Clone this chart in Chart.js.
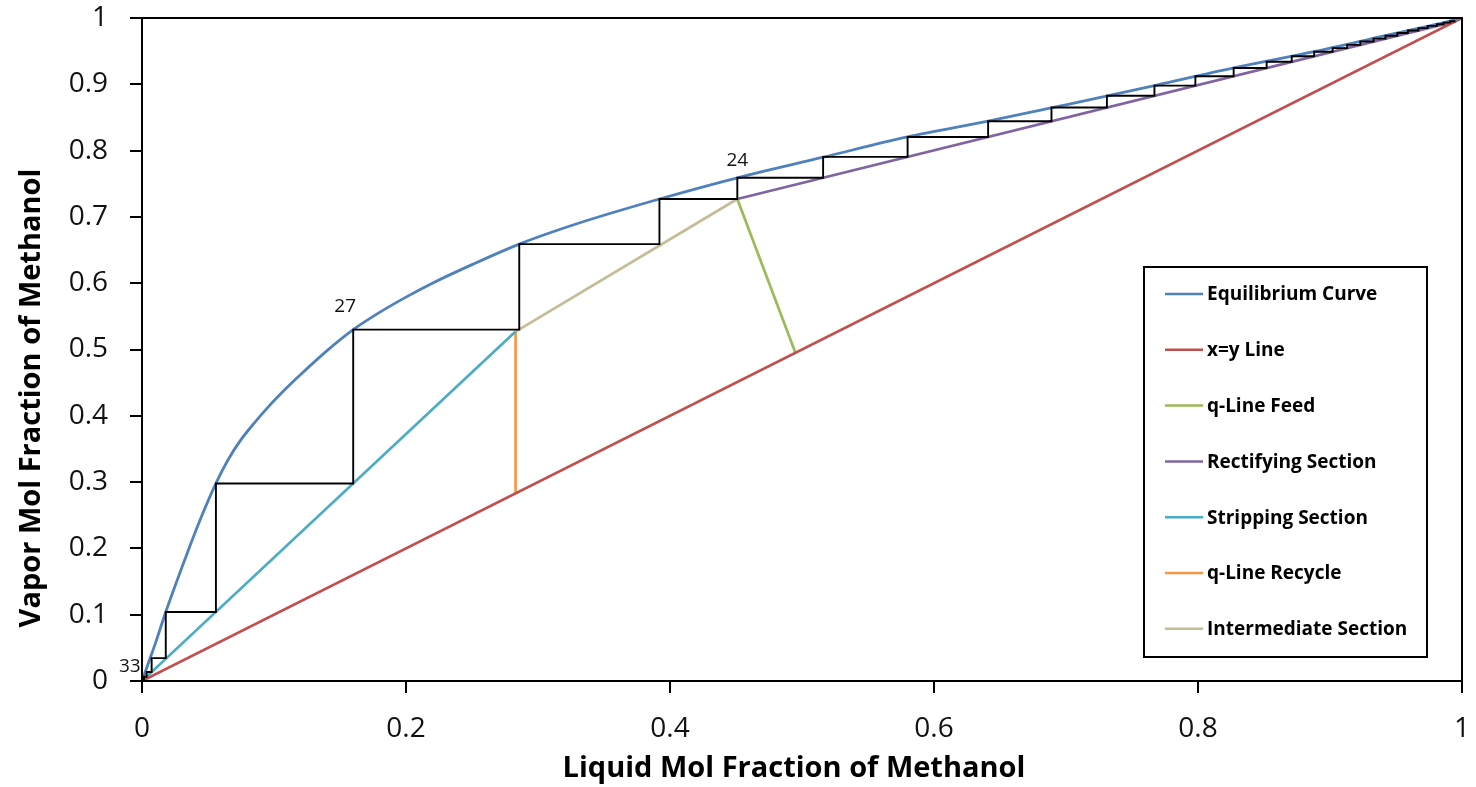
<!DOCTYPE html>
<html>
<head>
<meta charset="utf-8">
<script src="https://cdn.jsdelivr.net/npm/chart.js@4.4.1/dist/chart.umd.min.js"></script>
<style>
  html, body { margin: 0; padding: 0; background: #fff; }
  canvas { display: block; }
</style>
</head>
<body>
<canvas id="mccabeChart" width="1476" height="787"></canvas>
<script>
// equilibrium curve
var eqX = [0, 0.005, 0.01, 0.018, 0.03, 0.043, 0.056, 0.065, 0.075, 0.085, 0.095, 0.11, 0.12, 0.14, 0.16, 0.18, 0.2, 0.22, 0.25, 0.2858, 0.33, 0.392, 0.451, 0.516, 0.58, 0.641, 0.7, 0.767, 0.827, 0.888, 0.942, 0.981, 1];
var eqY = [0, 0.028, 0.056, 0.104, 0.17, 0.238, 0.298, 0.333, 0.364, 0.389, 0.412, 0.443, 0.462, 0.498, 0.53, 0.556, 0.579, 0.6, 0.628, 0.659, 0.69, 0.727, 0.759, 0.79, 0.8206, 0.8443, 0.869, 0.898, 0.9246, 0.9492, 0.9733, 0.9906, 1];

var diagX = [0, 1];
var diagY = [0, 1];
var feedX = [0.451, 0.495];
var feedY = [0.727, 0.495];
var rectX = [0.451, 0.995];
var rectY = [0.727, 0.995];
var stripX = [0, 0.283];
var stripY = [0, 0.527];
var recycleX = [0.283, 0.283];
var recycleY = [0.283, 0.527];
var interX = [0.283, 0.451];
var interY = [0.527, 0.727];

// stage points on the equilibrium curve, stage 1 at the top
var xD = 0.995;
var stageX = [0.991, 0.986, 0.981, 0.974, 0.967, 0.959, 0.951, 0.942, 0.933, 0.923, 0.913, 0.902, 0.888, 0.871, 0.852, 0.827, 0.798, 0.767, 0.731, 0.689, 0.641, 0.58, 0.516, 0.451, 0.392, 0.2858, 0.16, 0.056, 0.018, 0.0073, 0.0035, 0.0015, 0.0006];
var stageY = [0.995, 0.993, 0.9906, 0.9881, 0.9847, 0.9812, 0.9773, 0.9733, 0.9689, 0.9645, 0.9595, 0.9546, 0.9492, 0.9423, 0.9339, 0.9246, 0.9122, 0.898, 0.8827, 0.865, 0.8443, 0.8206, 0.7906, 0.759, 0.727, 0.659, 0.53, 0.298, 0.104, 0.0345, 0.0136, 0.0065, 0.0028];
var lastStepY = 0.0011;
var labeledStages = [24, 27, 33];

var xTicks = [0, 0.2, 0.4, 0.6, 0.8, 1];
var yTicks = [0, 0.1, 0.2, 0.3, 0.4, 0.5, 0.6, 0.7, 0.8, 0.9, 1];
var xTitle = "Liquid Mol Fraction of Methanol";
var yTitle = "Vapor Mol Fraction of Methanol";

var FONT = "'Open Sans', 'Noto Sans', sans-serif";
Chart.defaults.font.family = FONT;
Chart.defaults.color = "#000";

function pts(xs, ys) {
  return xs.map(function(x, i) { return { x: x, y: ys[i] }; });
}

var stairs = [{ x: xD, y: xD }];
for (let i = 0; i < stageX.length; i++) {
  stairs.push({ x: stageX[i], y: stageY[i] });
  var next = i + 1 < stageY.length ? stageY[i + 1] : lastStepY;
  stairs.push({ x: stageX[i], y: next });
}

function lineSet(label, data, color, width) {
  return {
    label: label,
    data: data,
    borderColor: color,
    backgroundColor: color,
    borderWidth: width || 2.7,
    showLine: true,
    pointRadius: 0,
    pointHoverRadius: 0,
    fill: false,
    inLegend: true
  };
}

var eqSet = lineSet("Equilibrium Curve", pts(eqX, eqY), "#4F81BD", 2.8);
eqSet.cubicInterpolationMode = "monotone";

var stairSet = lineSet("Stages", stairs, "#000", 1.9);
stairSet.inLegend = false;

var datasets = [
  stairSet,
  eqSet,
  lineSet("x=y Line", pts(diagX, diagY), "#C0504D"),
  lineSet("q-Line Feed", pts(feedX, feedY), "#9BBB59"),
  lineSet("Rectifying Section", pts(rectX, rectY), "#8064A2"),
  lineSet("Stripping Section", pts(stripX, stripY), "#4BACC6"),
  lineSet("q-Line Recycle", pts(recycleX, recycleY), "#F79646"),
  lineSet("Intermediate Section", pts(interX, interY), "#C4BD97")
];

var whiteBg = {
  id: "whiteBg",
  beforeDraw: function(chart) {
    var ctx = chart.ctx;
    ctx.save();
    ctx.fillStyle = "#fff";
    ctx.fillRect(0, 0, chart.width, chart.height);
    ctx.restore();
  }
};

var frame = {
  id: "frame",
  afterDatasetsDraw: function(chart) {
    var a = chart.chartArea, ctx = chart.ctx;
    ctx.save();
    ctx.strokeStyle = "#000";
    ctx.lineWidth = 2;
    ctx.strokeRect(a.left, a.top, a.right - a.left, a.bottom - a.top);

    // stage numbers
    var sx = chart.scales.x, sy = chart.scales.y;
    var offsets = { 24: [0, -17], 27: [-8, -23], 33: [-13, -13] };
    ctx.fillStyle = "#111";
    ctx.font = "19px " + FONT;
    ctx.textAlign = "center";
    ctx.textBaseline = "middle";
    labeledStages.forEach(function(n) {
      var px = sx.getPixelForValue(stageX[n - 1]) + offsets[n][0];
      var py = sy.getPixelForValue(stageY[n - 1]) + offsets[n][1];
      ctx.fillText(String(n), px, py);
    });

    // axis titles
    ctx.fillStyle = "#000";
    ctx.font = "bold 29px " + FONT;
    ctx.fillText(xTitle, 794, 769);
    ctx.translate(32, 398);
    ctx.rotate(-Math.PI / 2);
    ctx.fillText(yTitle, 0, 0);
    ctx.restore();
  }
};

var boxLegend = {
  id: "boxLegend",
  afterDraw: function(chart) {
    var ctx = chart.ctx;
    var items = chart.data.datasets.filter(function(d) { return d.inLegend; });
    ctx.save();
    ctx.fillStyle = "#fff";
    ctx.fillRect(1144, 267, 283, 390);
    ctx.lineWidth = 2;
    ctx.strokeStyle = "#000";
    ctx.strokeRect(1144, 267, 283, 390);
    ctx.font = "bold 19px " + FONT;
    ctx.textBaseline = "middle";
    ctx.textAlign = "left";
    items.forEach(function(d, i) {
      var y = 294 + i * 55.8;
      ctx.strokeStyle = d.borderColor;
      ctx.lineWidth = 2.5;
      ctx.beginPath();
      ctx.moveTo(1165, y);
      ctx.lineTo(1203, y);
      ctx.stroke();
      ctx.fillStyle = "#000";
      ctx.fillText(d.label, 1207, y + 1);
    });
    ctx.restore();
  }
};

function setTicks(list) {
  return function(scale) {
    scale.ticks = list.map(function(v) { return { value: v }; });
  };
}

var config = {
  type: "scatter",
  data: { datasets: datasets },
  options: {
    responsive: false,
    animation: false,
    events: [],
    layout: { padding: { top: 18, right: 14, left: 0, bottom: 0 } },
    plugins: {
      legend: { display: false },
      tooltip: { enabled: false }
    },
    scales: {
      x: {
        type: "linear",
        min: 0,
        max: 1,
        afterBuildTicks: setTicks(xTicks),
        afterFit: function(s) {
          s.height = 106;
          s.paddingLeft = 0;
          s.paddingRight = 0;
        },
        border: { display: false },
        grid: { drawOnChartArea: false, drawTicks: true, tickLength: 12, color: "#000", lineWidth: 2 },
        ticks: {
          padding: 19,
          font: { size: 28 },
          color: "#111",
          callback: function(v) { return String(v); }
        }
      },
      y: {
        type: "linear",
        min: 0,
        max: 1,
        afterBuildTicks: setTicks(yTicks),
        afterFit: function(s) {
          s.width = 142;
          s.paddingTop = 0;
          s.paddingBottom = 0;
        },
        border: { display: false },
        grid: { drawOnChartArea: false, drawTicks: true, tickLength: 12, color: "#000", lineWidth: 2 },
        ticks: {
          padding: 22,
          font: { size: 28 },
          color: "#111",
          callback: function(v) { return String(v); }
        }
      }
    }
  },
  plugins: [whiteBg, frame, boxLegend]
};

var mccabeChart = new Chart(document.getElementById("mccabeChart"), config);
</script>
</body>
</html>
